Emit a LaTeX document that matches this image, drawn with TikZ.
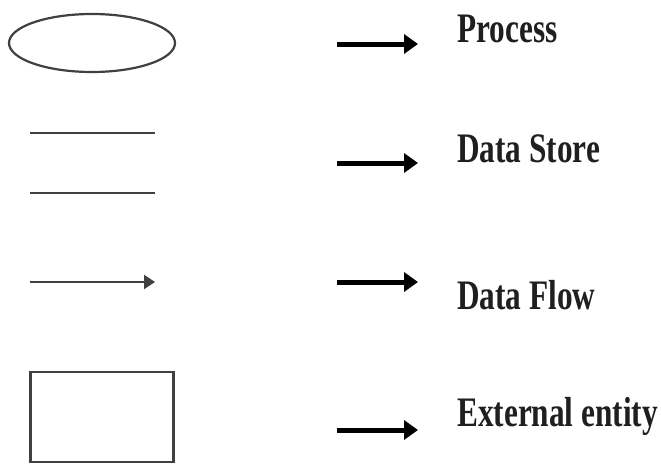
\documentclass[tikz,border=0pt]{standalone}
\usepackage{fontspec}
\setmainfont{Liberation Serif}[FakeStretch=0.745]
\usetikzlibrary{arrows.meta,shapes.geometric}
\begin{document}
\begin{tikzpicture}[x=1pt,y=-1pt,
  sym/.style={draw=black!75,line width=2.2pt},
  flowline/.style={draw=black!75,line width=2.2pt,-{Triangle[length=11pt,width=14pt]}},
  pointer/.style={line width=5pt,-{Triangle[length=14pt,width=19pt]}},
  legendtext/.style={anchor=base west,inner sep=0pt,text=black!88,font=\fontsize{42}{44}\selectfont\bfseries}]
\useasboundingbox[fill=white] (0,0) rectangle (661,466);
% symbols
\node[ellipse,sym,minimum width=166pt,minimum height=58pt,inner sep=0pt] (proc) at (92,43) {};
\coordinate (dsAa) at (30,133); \coordinate (dsAb) at (155,133);
\coordinate (dsBa) at (30,193); \coordinate (dsBb) at (155,193);
\draw[sym] (dsAa) -- (dsAb);
\draw[sym] (dsBa) -- (dsBb);
\coordinate (dfa) at (30,282); \coordinate (dfb) at (155,282);
\draw[flowline] (dfa) -- (dfb);
\node[rectangle,sym,minimum width=143pt,minimum height=90pt,inner sep=0pt] (ext) at (102,417) {};
% pointers
\coordinate (pa1) at (337,44); \coordinate (pb1) at (418,44);
\coordinate (pa2) at (337,163); \coordinate (pb2) at (418,163);
\coordinate (pa3) at (337,282); \coordinate (pb3) at (418,282);
\coordinate (pa4) at (337,430); \coordinate (pb4) at (418,430);
\draw[pointer] (pa1) -- (pb1);
\draw[pointer] (pa2) -- (pb2);
\draw[pointer] (pa3) -- (pb3);
\draw[pointer] (pa4) -- (pb4);
% labels
\node[legendtext] (tproc) at (457,42) {Process};
\node[legendtext] (tds) at (457,162) {Data Store};
\node[legendtext] (tdf) at (457,309) {Data Flow};
\node[legendtext] (text) at (457,426) {External entity};
\end{tikzpicture}
\end{document}
